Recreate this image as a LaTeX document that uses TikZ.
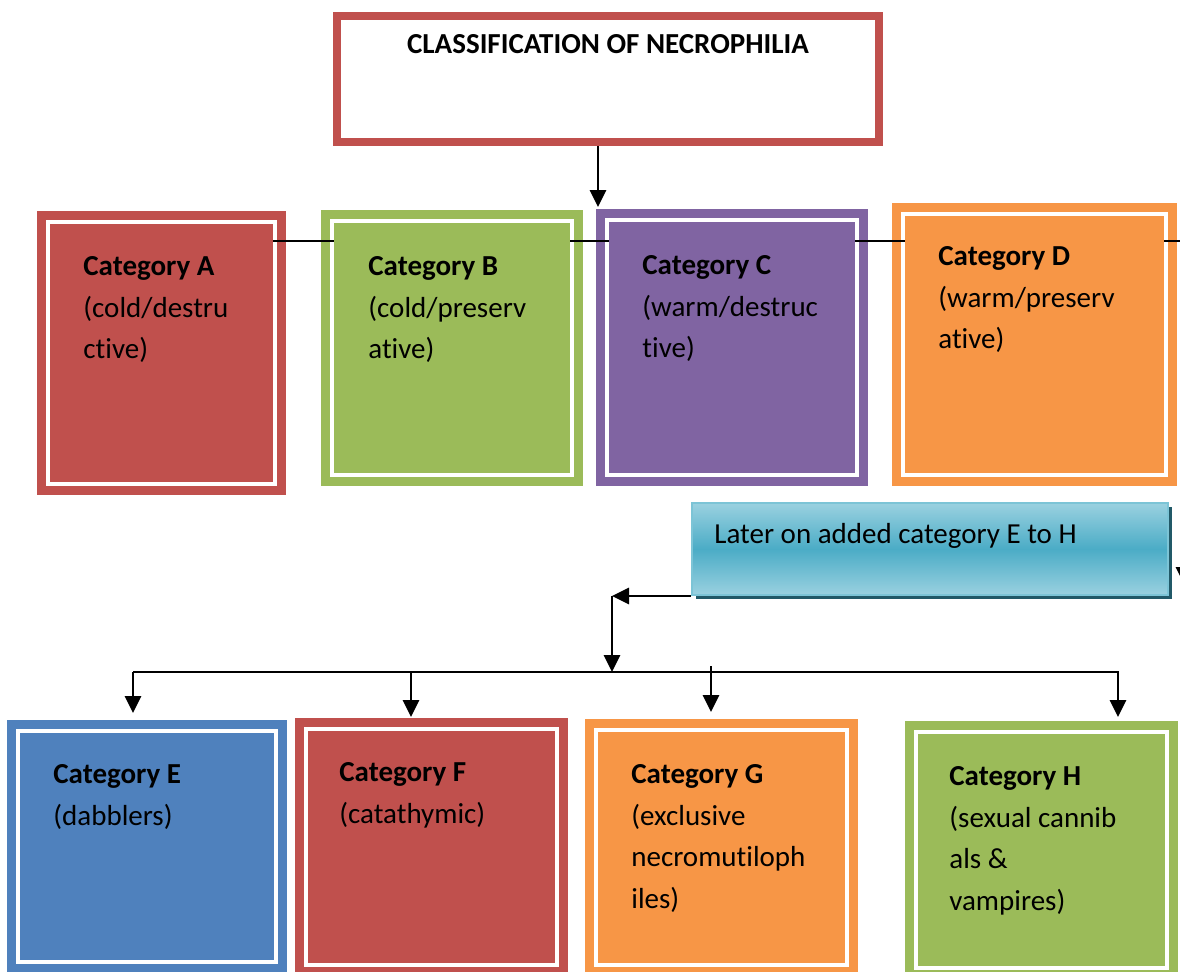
\documentclass[tikz,border=0pt]{standalone}
\usepackage{fontspec}
\setmainfont{Carlito}[Ligatures=NoCommon]
\usetikzlibrary{arrows.meta,shadows,calc}
\pgfdeclarelayer{background}
\pgfsetlayers{background,main}
\definecolor{cRed}{HTML}{C0504D}
\definecolor{cGreen}{HTML}{9BBB59}
\definecolor{cPurple}{HTML}{8064A2}
\definecolor{cOrange}{HTML}{F79646}
\definecolor{cBlue}{HTML}{4F81BD}
\definecolor{cyL}{HTML}{9AD1E0}
\definecolor{cyM}{HTML}{4BACC6}
\definecolor{cyB}{HTML}{7CC4D6}
\definecolor{cyS}{HTML}{215968}
\newcommand{\myst}{\rule{0pt}{20pt}}
\begin{document}
\begin{tikzpicture}[x=0.5pt,y=-0.5pt,
  catfill/.style={inner sep=0pt, outer sep=0pt, draw=none},
  cattext/.style={anchor=north west, inner sep=0pt, align=left, font=\fontsize{14.5pt}{20.8pt}\selectfont},
  catframe/.style={line width=4.5pt, double=white, double distance=2pt},
  arr/.style={line width=1.4pt, -{Triangle[length=8.5pt,width=8pt]}},
  conn/.style={line width=1pt}
]
\useasboundingbox (0,0) rectangle (1180,971);

% title
\node[draw=cRed, line width=4pt, fill=white, minimum width=271pt, minimum height=63pt, inner sep=0pt] (T) at (608,79) {};
\node[anchor=base, inner sep=0pt, font=\fontsize{14.5pt}{17pt}\selectfont\bfseries] (Tt) at (608,53) {CLASSIFICATION OF NECROPHILIA};

% category boxes (inner fills)
\node[catfill, fill=cRed,    minimum width=111.5pt, minimum height=129pt]   (A) at (161.5,353) {};
\node[catfill, fill=cGreen,  minimum width=118pt,   minimum height=125pt]   (B) at (452,348) {};
\node[catfill, fill=cPurple, minimum width=123pt,   minimum height=125.5pt] (C) at (732,347.5) {};
\node[catfill, fill=cOrange, minimum width=129.5pt, minimum height=128.5pt] (D) at (1034.5,344.5) {};
\node[catfill, fill=cBlue,   minimum width=127pt,   minimum height=113.5pt] (E) at (147,846.5) {};
\node[catfill, fill=cRed,    minimum width=123.5pt, minimum height=116pt]   (F) at (431.5,847) {};
\node[catfill, fill=cOrange, minimum width=123.5pt, minimum height=115.5pt] (G) at (721.5,847.5) {};
\node[catfill, fill=cGreen,  minimum width=123.5pt, minimum height=116pt]   (H) at (1041.5,850) {};

% texts
\node[cattext] (At) at (83,235)  {\myst\textbf{Category A}\\(cold/destru\\ctive)};
\node[cattext] (Bt) at (368,235) {\myst\textbf{Category B}\\(cold/preserv\\ative)};
\node[cattext] (Ct) at (642,234) {\myst\textbf{Category C}\\(warm/destruc\\tive)};
\node[cattext] (Dt) at (938,225) {\myst\textbf{Category D}\\(warm/preserv\\ative)};
\node[cattext] (Et) at (53,743)  {\myst\textbf{Category E}\\(dabblers)};
\node[cattext] (Ft) at (339,741) {\myst\textbf{Category F}\\(catathymic)};
\node[cattext] (Gt) at (631,743) {\myst\textbf{Category G}\\(exclusive\\necromutiloph\\iles)};
\node[cattext] (Ht) at (949,745) {\myst\textbf{Category H}\\(sexual cannib\\als \&\\vampires)};

% later-on box
\node[draw=cyB, line width=1pt, top color=cyL, bottom color=cyL, middle color=cyM,
      minimum width=238pt, minimum height=46pt, inner sep=0pt,
      general shadow={fill=cyS, shadow xshift=2pt, shadow yshift=-2pt}] (L) at (930,549) {};
\node[anchor=base west, inner sep=0pt, font=\fontsize{14.5pt}{17pt}\selectfont] (Lt) at (714,543) {Later on added category E to H};

% connectors
\coordinate (cTop) at (598,207);
\draw[arr] (T.south -| cTop) -- (cTop);

\path (L.south west) ++(-79,0) coordinate (j1);
\draw[arr] (L.south west) -- (j1);
\coordinate (busL) at (133,672);
\coordinate (busR) at (1118,672);
\coordinate (bF) at (411,672);
\coordinate (bG) at (711,666);
\draw[arr] (j1) -- (j1 |- busL);
\draw[arr] (busL) -- (busR) -- ($(busR |- H.north)+(0,-17)$);
\draw[arr] (busL) -- ($(busL |- E.north)+(0,-20)$);
\draw[arr] (bF) -- ($(bF |- F.north)+(0,-14)$);
\draw[arr] (bG) -- ($(bG |- G.north)+(0,-20)$);

\coordinate (sTop) at (1184,555);
\coordinate (sBot) at (1184,584);
\draw[arr] (sTop) -- (sBot);

% frames and the row line behind the fills
\begin{pgfonlayer}{background}
\foreach \n/\c in {A/cRed,B/cGreen,C/cPurple,D/cOrange,E/cBlue,F/cRed,G/cOrange,H/cGreen}
  \draw[catframe, \c] ([shift={(-2,-2)}]\n.north west) rectangle ([shift={(2,2)}]\n.south east);
\coordinate (rowR) at (1190,241);
\draw[conn] (rowR -| A.center) -- (rowR);
\end{pgfonlayer}
\end{tikzpicture}
\end{document}
